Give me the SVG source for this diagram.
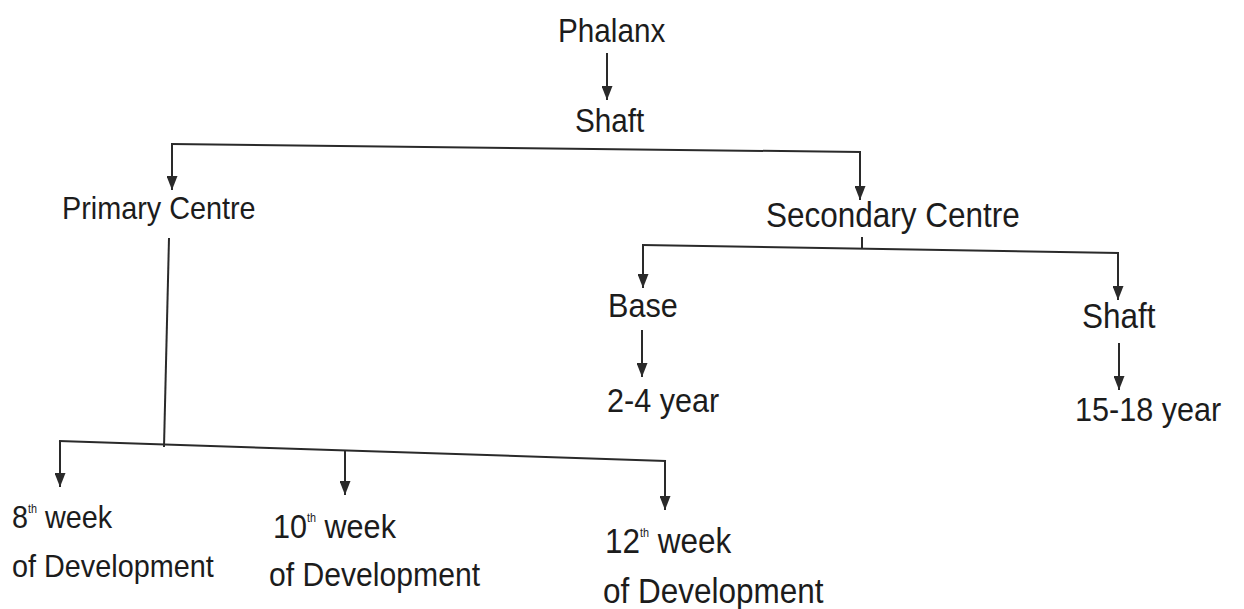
<svg xmlns="http://www.w3.org/2000/svg" width="1244" height="609" viewBox="0 0 1244 609">
<style>
text{font-family:"Liberation Sans",Arial,sans-serif;fill:#1c1c1c}
.sup{font-size:12px}
.c line,.c path{stroke:#2a2a2a;stroke-width:2;fill:none}
.a{marker-end:url(#ah)}
</style>
<defs>
<marker id="ah" viewBox="0 0 14 11" refX="14" refY="5.5" markerWidth="14" markerHeight="11" markerUnits="userSpaceOnUse" orient="auto">
<path d="M0,0 L14,5.5 L0,11 z" fill="#2a2a2a"/>
</marker>
</defs>
<rect width="1244" height="609" fill="#ffffff"/>
<g id="connectors" class="c">
<line class="a" x1="607" y1="53" x2="607" y2="100"/>
<line x1="171" y1="144" x2="861" y2="152"/>
<line class="a" x1="172" y1="144" x2="172" y2="190"/>
<line class="a" x1="860" y1="152" x2="860" y2="200"/>
<line x1="862" y1="237" x2="862" y2="249"/>
<line x1="642" y1="245" x2="1119" y2="253"/>
<line class="a" x1="643" y1="245" x2="643" y2="288"/>
<line class="a" x1="1118" y1="253" x2="1118" y2="300"/>
<line class="a" x1="642" y1="330" x2="642" y2="377"/>
<line class="a" x1="1119" y1="343" x2="1119" y2="390"/>
<line x1="169" y1="238" x2="164" y2="447"/>
<line x1="59" y1="441" x2="666" y2="461"/>
<line class="a" x1="60" y1="441" x2="60" y2="487"/>
<line class="a" x1="345" y1="450" x2="345" y2="495"/>
<line class="a" x1="665" y1="461" x2="665" y2="510"/>
</g>
<g id="phalanx"><text transform="translate(558,42) scale(0.9,1)" font-size="33">Phalanx</text></g>
<g id="shaft-top"><text transform="translate(575,132) scale(0.9,1)" font-size="33">Shaft</text></g>
<g id="primary-centre"><text transform="translate(62,219) scale(0.9,1)" font-size="32">Primary Centre</text></g>
<g id="secondary-centre"><text transform="translate(766,227) scale(0.9,1)" font-size="35">Secondary Centre</text></g>
<g id="base"><text transform="translate(608,317) scale(0.9,1)" font-size="34">Base</text></g>
<g id="base-age"><text transform="translate(607,412) scale(0.9,1)" font-size="34">2-4 year</text></g>
<g id="shaft-secondary"><text transform="translate(1082,328) scale(0.9,1)" font-size="35">Shaft</text></g>
<g id="shaft-age"><text transform="translate(1075,421) scale(0.9,1)" font-size="34">15-18 year</text></g>
<g id="week8">
<text transform="translate(12,528) scale(0.9,1)" font-size="32">8<tspan class="sup" dy="-15">th</tspan><tspan dy="15"> week</tspan></text>
<text transform="translate(12,577) scale(0.9,1)" font-size="32">of Development</text>
</g>
<g id="week10">
<text transform="translate(273,538) scale(0.9,1)" font-size="34">10<tspan class="sup" dy="-16">th</tspan><tspan dy="16"> week</tspan></text>
<text transform="translate(269,586) scale(0.9,1)" font-size="33.5">of Development</text>
</g>
<g id="week12">
<text transform="translate(605,553) scale(0.9,1)" font-size="35">12<tspan class="sup" dy="-16">th</tspan><tspan dy="16"> week</tspan></text>
<text transform="translate(603,603) scale(0.9,1)" font-size="35">of Development</text>
</g>
</svg>
